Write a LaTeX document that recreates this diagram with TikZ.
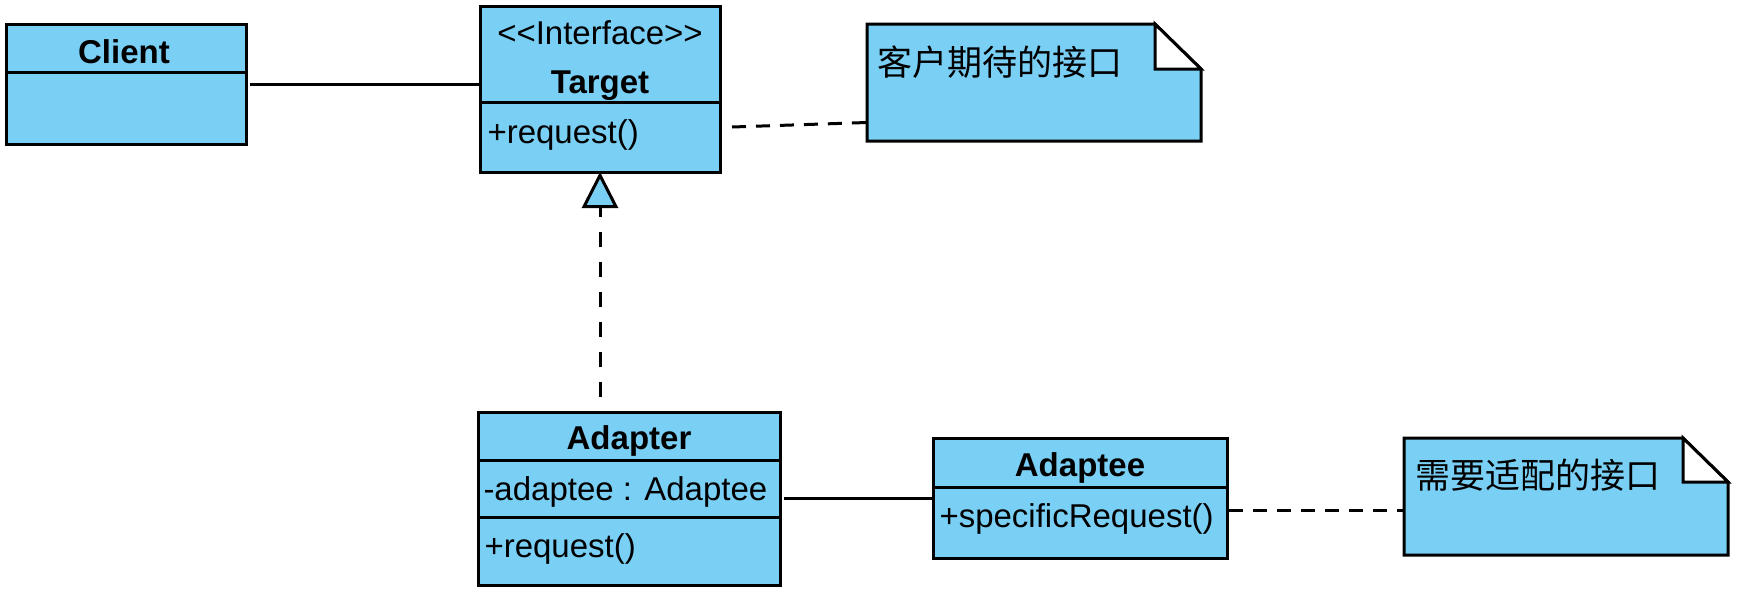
\documentclass[tikz,border=0pt]{standalone}
\usepackage{fontspec}
\setmainfont{Liberation Sans}
\newfontfamily\cjk{Noto Sans CJK SC}
\usetikzlibrary{arrows.meta, calc, positioning}
\definecolor{umlblue}{RGB}{122,207,245}
\newcommand{\umlfont}{\fontsize{33}{39}\selectfont}
\newcommand{\notefont}{\cjk\fontsize{35}{42}\selectfont}

\begin{document}
\begin{tikzpicture}[x=1pt, y=-1pt, line width=3pt,
  box/.style={draw, fill=umlblue, inner sep=0pt, outer sep=0pt, anchor=north west},
  notebox/.style={inner sep=0pt, outer sep=0pt, anchor=north west},
  classname/.style={font=\bfseries\umlfont, anchor=base, inner sep=0pt},
  member/.style={font=\umlfont, anchor=base west, inner sep=0pt},
  notetext/.style={font=\notefont, anchor=west, inner sep=0pt},
  assoc/.style={draw},
  notelink/.style={draw, dash pattern=on 14pt off 10pt},
  realize/.style={draw, dash pattern=on 15pt off 15pt,
    -{Triangle[length=36pt, width=36pt, fill=umlblue]}}]
\useasboundingbox (0,0) rectangle (1743,597);
%========================
% Top row: Client, Target
%========================
\node[box, minimum width=240, minimum height=120] (client) at (6,24) {};
\draw ([yshift=-48pt]client.north west) -- ([yshift=-48pt]client.north east);
\node[classname] (clientname) at ([xshift=-2pt,yshift=-39pt]client.north) {Client};

\node[box, minimum width=240, minimum height=166] (target) at (480,6) {};
\draw ([yshift=-96pt]target.north west) -- ([yshift=-96pt]target.north east);
\node[font=\umlfont, anchor=base, inner sep=0pt] (stereo) at ([yshift=-38pt]target.north)
  {\textless\kern0pt\textless Interface\textgreater\kern0pt\textgreater};
\node[classname] (targetname) at ([yshift=-87pt]target.north) {Target};
\node[member] (targetop) at ([xshift=6pt,yshift=-137pt]target.north west) {+request()};

% note on Target
\node[notebox, minimum width=334, minimum height=117] (note1) at (867,24) {};
\draw[fill=umlblue] (note1.north west) -- ([xshift=-46pt]note1.north east)
  -- ([yshift=-45pt]note1.north east) -- (note1.south east) -- (note1.south west) -- cycle;
\draw[fill=white] ([xshift=-46pt]note1.north east) -- ([xshift=-46pt,yshift=-45pt]note1.north east)
  -- ([yshift=-45pt]note1.north east) -- cycle;
\node[notetext] (note1text) at ([xshift=9pt,yshift=-38pt]note1.north west) {客户期待的接口};

%========================
% Bottom row: Adapter, Adaptee
%========================
\node[box, minimum width=302, minimum height=173] (adapter) at (478,412) {};
\draw ([yshift=-48pt]adapter.north west) -- ([yshift=-48pt]adapter.north east);
\draw ([yshift=-105pt]adapter.north west) -- ([yshift=-105pt]adapter.north east);
\node[classname] (adaptername) at ([yshift=-37pt]adapter.north) {Adapter};
\node[member] (adapterattr) at ([xshift=4pt,yshift=-88pt]adapter.north west) {-adaptee : Adaptee};
\node[member] (adapterop) at ([xshift=5pt,yshift=-145pt]adapter.north west) {+request()};

\node[box, minimum width=294, minimum height=120] (adaptee) at (933,438) {};
\draw ([yshift=-49pt]adaptee.north west) -- ([yshift=-49pt]adaptee.north east);
\node[classname] (adapteename) at ([yshift=-38pt]adaptee.north) {Adaptee};
\node[member] (adapteeop) at ([xshift=5pt,yshift=-89pt]adaptee.north west) {+specificRequest()};

% note on Adaptee
\node[notebox, minimum width=324, minimum height=117] (note2) at (1404,438) {};
\draw[fill=umlblue] (note2.north west) -- ([xshift=-45pt]note2.north east)
  -- ([yshift=-44pt]note2.north east) -- (note2.south east) -- (note2.south west) -- cycle;
\draw[fill=white] ([xshift=-45pt]note2.north east) -- ([xshift=-45pt,yshift=-44pt]note2.north east)
  -- ([yshift=-44pt]note2.north east) -- cycle;
\node[notetext] (note2text) at ([xshift=10pt,yshift=-37pt]note2.north west) {需要适配的接口};

%========================
% connectors
%========================
\draw[assoc, shorten <=4pt] (client.east) -- (client.east -| target.west);
\draw[notelink] ([xshift=12pt,yshift=-38pt]target.east) -- ([yshift=-40pt]note1.west);
\draw[realize, shorten <=15pt] (target.south |- adapter.north) -- (target.south);
\draw[assoc, shorten <=4pt] (adapter.east) -- (adapter.east -| adaptee.west);
\draw[notelink] ([xshift=2pt,yshift=-12pt]adaptee.east) -- ([yshift=-12pt]adaptee.east -| note2.west);
\end{tikzpicture}
\end{document}
